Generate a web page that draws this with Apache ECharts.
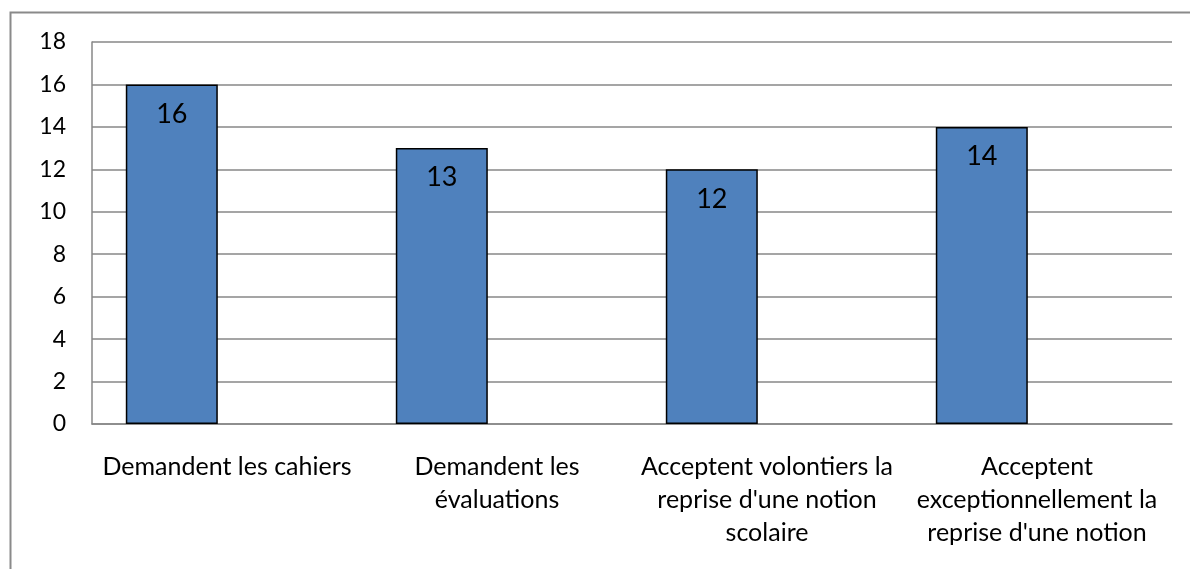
<!DOCTYPE html>
<html>
<head>
<meta charset="utf-8">
<script src="https://cdn.jsdelivr.net/npm/echarts@6/dist/echarts.min.js"></script>
<style>
  html, body { margin: 0; padding: 0; background: #fff; }
  #chart { width: 1190px; height: 569px; }
</style>
</head>
<body>
<div id="chart"></div>
<script>
var categories = [
  'Demandent les cahiers',
  'Demandent les\névaluations',
  'Acceptent volontiers la\nreprise d\'une notion\nscolaire',
  'Acceptent\nexceptionnellement la\nreprise d\'une notion'
];
var values = [16, 13, 12, 14];
var emptyValues = ['-', '-', '-', '-'];

var chart = echarts.init(document.getElementById('chart'));

var option = {
  backgroundColor: '#ffffff',
  animation: false,
  textStyle: { fontFamily: 'Lato' },
  graphic: [{
    type: 'rect',
    shape: { x: 10.5, y: 12.5, width: 1300, height: 700 },
    style: { fill: 'none', stroke: '#8a8a8a', lineWidth: 2 },
    silent: true
  }],
  grid: { left: 92, right: 18, top: 42, bottom: 145 },
  xAxis: {
    type: 'category',
    data: categories,
    axisLine: { lineStyle: { color: '#878787', width: 1.5 } },
    axisTick: { show: false },
    axisLabel: {
      color: '#000',
      fontSize: 25,
      lineHeight: 33,
      margin: 26,
      interval: 0,
      align: 'center'
    }
  },
  yAxis: {
    type: 'value',
    min: 0,
    max: 18,
    interval: 2,
    axisLine: { show: true, lineStyle: { color: '#878787', width: 1.5 } },
    axisTick: { show: false },
    axisLabel: { color: '#000', fontSize: 23, margin: 26 },
    splitLine: { lineStyle: { color: '#878787', width: 1.5 } }
  },
  series: [{
    name: 'Nombre',
    type: 'bar',
    data: values,
    barWidth: 92,
    barGap: '20%',
    itemStyle: { color: '#4f81bd', borderColor: '#000', borderWidth: 1.5 },
    label: {
      show: true,
      position: 'insideTop',
      distance: 16,
      color: '#000',
      fontSize: 27
    }
  }, {
    name: 'vide',
    type: 'bar',
    data: emptyValues,
    barWidth: 92
  }]
};

chart.setOption(option);
</script>
</body>
</html>
